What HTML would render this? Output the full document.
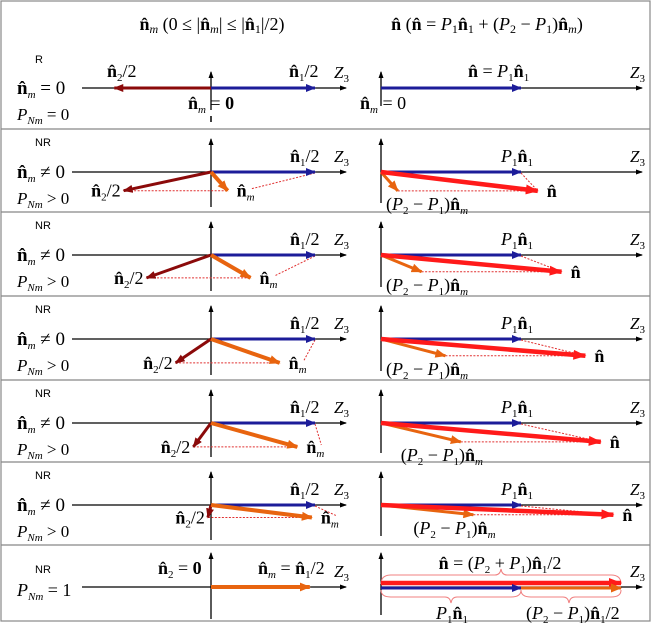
<!DOCTYPE html>
<html><head><meta charset="utf-8"><style>
html,body{margin:0;padding:0;background:#fff}
svg{display:block}
.s{font-family:"Liberation Serif",serif}
.b{font-weight:bold}
.sans{font-family:"Liberation Sans",sans-serif}
</style></head><body>
<svg id="fig" width="651" height="623" viewBox="0 0 651 623" xmlns="http://www.w3.org/2000/svg">
<defs>
<marker id="mb" markerWidth="10" markerHeight="8" refX="9" refY="4" orient="auto" markerUnits="userSpaceOnUse"><path d="M0,0 L10,4 L0,8 z" fill="#1c1c99"/></marker>
<marker id="md" markerWidth="10" markerHeight="8" refX="9" refY="4" orient="auto" markerUnits="userSpaceOnUse"><path d="M0,0 L10,4 L0,8 z" fill="#8b0a0a"/></marker>
<marker id="mo" markerWidth="11" markerHeight="9" refX="10" refY="4.5" orient="auto" markerUnits="userSpaceOnUse"><path d="M0,0 L11,4.5 L0,9 z" fill="#e8640f"/></marker>
<marker id="mr" markerWidth="13" markerHeight="10" refX="12" refY="5" orient="auto" markerUnits="userSpaceOnUse"><path d="M0,0 L13,5 L0,10 z" fill="#ff1a1a"/></marker>
<marker id="mk" markerWidth="7" markerHeight="6" refX="6" refY="3" orient="auto" markerUnits="userSpaceOnUse"><path d="M0,0.5 L7,3 L0,5.5 z" fill="#000"/></marker>
</defs>
<g id="grid" stroke="#888" stroke-width="1.2" fill="none">
<rect x="1" y="1" width="649" height="620"/>
</g>
<g>
<text class="s" x="212" y="30" font-size="18" text-anchor="middle"><tspan class="b">n̂</tspan><tspan font-style="italic" font-size="12" dy="3">m</tspan><tspan dy="-3">   (0 ≤ |</tspan><tspan class="b">n̂</tspan><tspan font-style="italic" font-size="12" dy="3">m</tspan><tspan dy="-3">| ≤ |</tspan><tspan class="b">n̂</tspan><tspan font-size="12" dy="3">1</tspan><tspan dy="-3">|/2)</tspan></text>
<text class="s" x="487" y="30" font-size="18" text-anchor="middle"><tspan class="b">n̂</tspan><tspan>   (</tspan><tspan class="b">n̂</tspan><tspan> = </tspan><tspan font-style="italic">P</tspan><tspan font-size="12" dy="3">1</tspan><tspan class="b" dy="-3">n̂</tspan><tspan font-size="12" dy="3">1</tspan><tspan dy="-3"> + (</tspan><tspan font-style="italic">P</tspan><tspan font-size="12" dy="3">2</tspan><tspan dy="-3"> − </tspan><tspan font-style="italic">P</tspan><tspan font-size="12" dy="3">1</tspan><tspan dy="-3">)</tspan><tspan class="b">n̂</tspan><tspan font-style="italic" font-size="12" dy="3">m</tspan><tspan dy="-3">)</tspan></text>
</g>
<g id="rows"></g>
</svg>
<script>
// row layout
const rowTops = [46, 129, 212, 296, 380, 462, 545, 621];
// n_m endpoint for NR rows (units of |n1/2|), x along Z3, y downward
const nmX = [0.16, 0.38, 0.66, 0.83, 0.97];
const nmY = [0.18, 0.22, 0.23, 0.23, 0.12];
// (P2-P1) n_m on right panel (units of |P1 n1|)
const rOrX = [0.12, 0.29, 0.46, 0.57, 0.66];
const rOrY = [0.135, 0.12, 0.12, 0.135, 0.07];

const NS = "http://www.w3.org/2000/svg";
const rows = document.getElementById('rows');
const grid = document.getElementById('grid');
const LX = 211, RX = 381, LU = 104, RU = 140;
function el(tag, attrs, parent) { const e = document.createElementNS(NS, tag); for (const k in attrs) e.setAttribute(k, attrs[k]); (parent || rows).appendChild(e); return e; }
function txt(x, y, html, size, anchor, parent) { const t = el('text', {x: x, y: y, 'font-size': size || 18, 'text-anchor': anchor || 'start', class: 's'}, parent); t.innerHTML = html; return t; }
const nh = '<tspan class="b">n̂</tspan>';
const sub = (s, it) => `<tspan font-size="11" dy="4"${it ? ' font-style="italic"' : ''}>${s}</tspan><tspan dy="-4">\u200b</tspan>`;
const P = n => `<tspan font-style="italic">P</tspan>${sub(n)}`;

for (let i = 1; i < rowTops.length - 1; i++) {
  const l = el('line', {x1: 1, x2: 650, y1: rowTops[i], y2: rowTops[i], stroke: '#888', 'stroke-width': 1.2}, grid);
  
  
}

function axes(g, top, bot, ay, leftStart) {
  const a1 = el('line', {x1: leftStart, y1: ay, x2: 346, y2: ay, stroke: '#000', 'stroke-width': 1.3, 'marker-end': 'url(#mk)'}, g);
   
  const a2 = el('line', {x1: LX, y1: bot, x2: LX, y2: top, stroke: '#000', 'stroke-width': 1.3, 'marker-end': 'url(#mk)'}, g);
   
  const a3 = el('line', {x1: RX, y1: ay, x2: 642, y2: ay, stroke: '#000', 'stroke-width': 1.3, 'marker-end': 'url(#mk)'}, g);
   
  const a4 = el('line', {x1: RX, y1: bot - 4, x2: RX, y2: top, stroke: '#000', 'stroke-width': 1.3, 'marker-end': 'url(#mk)'}, g);
   
  const z1 = txt(334, ay - 10, '<tspan font-style="italic">Z</tspan>' + sub('3'), 17, 'start', g);
   
  const z2 = txt(630, ay - 10, '<tspan font-style="italic">Z</tspan>' + sub('3'), 17, 'start', g);
   
}
function vec(g, x1, y1, x2, y2, color, w, mk, name) {
  const v = el('line', {x1: x1, y1: y1, x2: x2, y2: y2, stroke: color, 'stroke-width': w, 'marker-end': 'url(#' + mk + ')'}, g);
   
  return v;
}
function dot(g, x1, y1, x2, y2) {
  const d = el('line', {x1: x1, y1: y1, x2: x2, y2: y2, stroke: '#e03030', 'stroke-width': 1, 'stroke-dasharray': '2,1.5'}, g);
   
}
function rowLabels(g, top, ay, tag, eq, pn) {
  const t = el('text', {x: 35, y: top + 17, 'font-size': 11, class: 'sans'}, g); t.textContent = tag;
   
  const a = txt(17, ay + 6, nh + sub('m', 1) + ' ' + eq, 19, 'start', g);
   
  const b = txt(17, ay + 32, '<tspan font-style="italic">P</tspan>' + sub('Nm', 1) + ' ' + pn, 17, 'start', g);
   
}

// Row 1 (R)
{
  const g = el('g', {});  
  const t = rowTops[0], ay = t + 42;
  axes(g, t + 26, t + 64, ay, 82);
  rowLabels(g, t, ay, 'R', '= 0', '= 0');
  vec(g, LX, ay, LX - 0.93 * LU, ay, '#8b0a0a', 3, 'md', 'n2-half-vector');
  vec(g, LX, ay, LX + LU, ay, '#1c1c99', 3, 'mb', 'n1-half-vector');
  let l = txt(107, ay - 11, nh + sub('2') + '/2', 18, 'start', g);  
  l = txt(289, ay - 11, nh + sub('1') + '/2', 18, 'start', g);  
  l = txt(LX, ay + 21, nh + sub('m', 1) + ' = <tspan class="b">0</tspan>', 18, 'middle', g);  
  el('line', {x1: LX, y1: ay + 28, x2: LX, y2: ay + 34, stroke: '#000', 'stroke-width': 1.5}, g);
  vec(g, RX, ay, RX + RU, ay, '#1c1c99', 3, 'mb', 'p1-n1-vector');
  l = txt(468, ay - 11, nh + ' = ' + P('1') + nh + sub('1'), 18, 'start', g);  
  l = txt(360, ay + 21, nh + sub('m', 1) + ' = 0', 18, 'start', g);  
}

// Rows 2-6 (NR)
for (let i = 0; i < nmX.length; i++) {
  const t = rowTops[i + 1], b = rowTops[i + 2], ay = t + 43;
  const g = el('g', {});  
  axes(g, t + 10, b - 5, ay, 72);
  rowLabels(g, t, ay, 'NR', '≠ 0', '> 0');
  const mx = LX + nmX[i] * LU, my = ay + nmY[i] * LU;
  const n2x = LX + (nmX[i] - 1) * LU, n2y = my;
  const n1x = LX + LU;
  dot(g, n2x, n2y, mx, my);
  dot(g, n1x, ay + 1, mx + 24, my - 2);
  vec(g, LX, ay, n1x, ay, '#1c1c99', 3, 'mb', 'n1-half-vector');
  vec(g, LX, ay, n2x, n2y, '#8b0a0a', 3, 'md', 'n2-half-vector');
  vec(g, LX, ay, mx, my, '#e8640f', 4, 'mo', 'nm-vector');
  let l = txt(n1x - 25, ay - 10, nh + sub('1') + '/2', 18, 'start', g);  
  l = txt(n2x - 3, n2y + 6, nh + sub('2') + '/2', 18, 'end', g);  
  l = txt(mx + 9, my + 6, nh + sub('m', 1), 18, 'start', g);  
  // right panel
  const px = RX + RU;
  const ox = RX + rOrX[i] * RU, oy = ay + rOrY[i] * RU;
  const nx = px + rOrX[i] * RU, ny = oy;
  dot(g, ox, oy, nx, ny);
  dot(g, px, ay + 1, nx, ny);
  vec(g, RX, ay, px, ay, '#1c1c99', 3, 'mb', 'p1-n1-vector');
  vec(g, RX, ay, ox, oy, '#e8640f', 3, 'mo', 'p2-minus-p1-nm-vector');
  vec(g, RX, ay, nx, ny, '#ff1a1a', 4.5, 'mr', 'n-vector');
  l = txt(px - 20, ay - 10, P('1') + nh + sub('1'), 18, 'start', g);  
  l = txt(nx + 9, ny + 6, nh, 18, 'start', g);  
  l = txt(Math.max(386, ox - 60), oy + 19, '(' + P('2') + ' − ' + P('1') + ')' + nh + sub('m', 1), 18, 'start', g);  
}

// Row 7 (NR, P_Nm = 1)
{
  const t = rowTops[6], b = rowTops[7], ay = t + 42;
  const g = el('g', {});  
  axes(g, t + 8, b - 2, ay, 82);
  const tt = el('text', {x: 35, y: t + 28, 'font-size': 11, class: 'sans'}, g); tt.textContent = 'NR';
   
  let l = txt(17, ay + 9, '<tspan font-style="italic">P</tspan>' + sub('Nm', 1) + ' = 1', 18, 'start', g);  
  vec(g, LX, ay, LX + LU * 0.95, ay, '#e8640f', 4, 'mo', 'nm-vector');
  l = txt(158, ay - 13, nh + sub('2') + ' = <tspan class="b">0</tspan>', 18, 'start', g);  
  l = txt(258, ay - 13, nh + sub('m', 1) + ' = ' + nh + sub('1') + '/2', 18, 'start', g);  
  const px = RX + RU, end = 621;
  const br1 = el('path', {d: `M${RX},${ay-3} Q${RX},${ay-12} ${RX+10},${ay-12} L${495},${ay-12} Q${500},${ay-12} ${501},${ay-18} Q${502},${ay-12} ${507},${ay-12} L${end-10},${ay-12} Q${end},${ay-12} ${end},${ay-3}`, fill: 'none', stroke: '#f08080', 'stroke-width': 1}, g);
   
  const br2 = el('path', {d: `M${RX},${ay+3} Q${RX},${ay+10} ${RX+10},${ay+10} L${445},${ay+10} Q${450},${ay+10} ${451},${ay+16} Q${452},${ay+10} ${457},${ay+10} L${px-10},${ay+10} Q${px},${ay+10} ${px},${ay+3}`, fill: 'none', stroke: '#f08080', 'stroke-width': 1}, g);
   
  const br3 = el('path', {d: `M${px},${ay+3} Q${px},${ay+10} ${px+10},${ay+10} L${563},${ay+10} Q${568},${ay+10} ${569},${ay+16} Q${570},${ay+10} ${575},${ay+10} L${end-10},${ay+10} Q${end},${ay+10} ${end},${ay+3}`, fill: 'none', stroke: '#f08080', 'stroke-width': 1}, g);
   
  vec(g, RX, ay - 4, end, ay - 4, '#ff1a1a', 4.5, 'mr', 'n-vector');
  vec(g, RX, ay + 1, px, ay + 1, '#1c1c99', 3, 'mb', 'p1-n1-vector');
  vec(g, px, ay + 1, end, ay + 1, '#e8640f', 3, 'mo', 'difference-vector');
  l = txt(500, ay - 18, nh + ' = (' + P('2') + ' + ' + P('1') + ')' + nh + sub('1') + '/2', 18, 'middle', g);  
  l = txt(436, ay + 32, P('1') + nh + sub('1'), 18, 'start', g);  
  l = txt(526, ay + 32, '(' + P('2') + ' − ' + P('1') + ')' + nh + sub('1') + '/2', 18, 'start', g);  
}
</script>
</body></html>
